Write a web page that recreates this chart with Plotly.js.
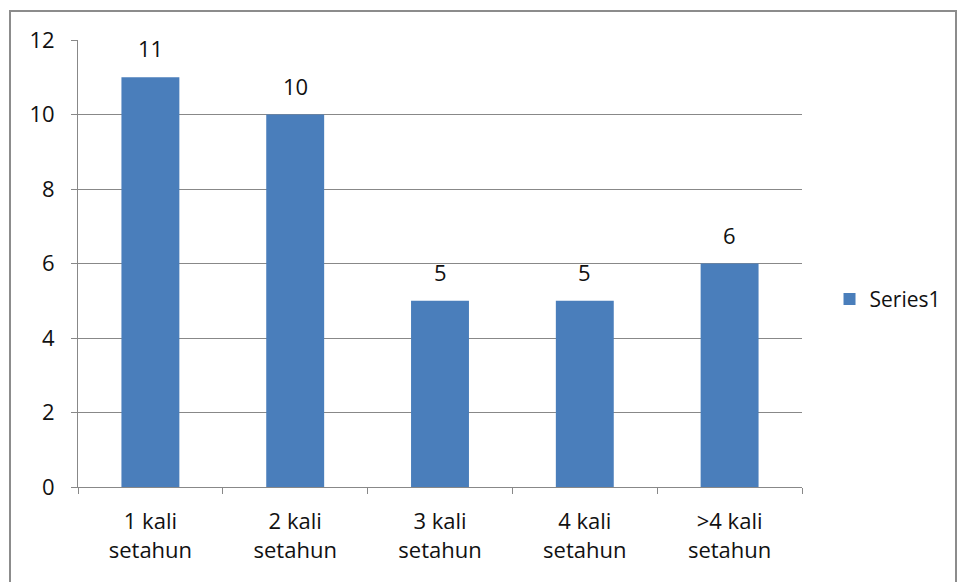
<!DOCTYPE html>
<html>
<head>
<meta charset="utf-8">
<script src="https://cdn.plot.ly/plotly-3.0.1.min.js"></script>
<style>
html,body{margin:0;padding:0;background:#fff;}
#wrap{position:relative;width:960px;height:582px;}
#chart{position:absolute;left:0;top:0;width:960px;height:582px;}
#frame{position:absolute;left:9px;top:10px;width:948px;height:580px;border:2px solid #8c8c8c;box-sizing:border-box;pointer-events:none;}
</style>
</head>
<body>
<div id="wrap"><div id="chart"></div><div id="frame"></div></div>
<script>
var categories = ["1 kali<br>setahun", "2 kali<br>setahun", "3 kali<br>setahun", "4 kali<br>setahun", ">4 kali<br>setahun"];
var values = [11, 10, 5, 5, 6];
var seriesName = "Series1";
var yTicks = [0, 2, 4, 6, 8, 10, 12];

var font = "Open Sans, Liberation Sans, sans-serif";
var fs = 22;
var trace = {
  type: "bar",
  x: categories,
  y: values,
  name: seriesName,
  marker: {color: "#4A7EBB"},
  width: 0.4,
  showlegend: true
};
var annotations = categories.map(function(c, i) {
  return {x: c, y: values[i], xref: "x", yref: "y", text: String(values[i]),
          showarrow: false, yanchor: "bottom", yshift: 12,
          font: {family: font, size: fs, color: "#111"}};
});
var layout = {
  width: 960, height: 582,
  margin: {l: 78, r: 158, t: 40, b: 95},
  paper_bgcolor: "#fff", plot_bgcolor: "#fff",
  font: {family: font, size: fs, color: "#111"},
  annotations: annotations,
  xaxis: {
    type: "category",
    tickson: "boundaries",
    ticks: "outside", ticklen: 6, tickcolor: "#888",
    ticklabelstandoff: 15,
    showline: true, linecolor: "#888", linewidth: 1,
    showgrid: false,
    automargin: false,
    tickfont: {family: font, size: fs, color: "#111"},
    fixedrange: true
  },
  yaxis: {
    range: [0, 12],
    tickvals: yTicks,
    ticks: "outside", ticklen: 6, tickcolor: "#888",
    ticklabelstandoff: 12,
    showline: true, linecolor: "#888", linewidth: 1,
    showgrid: true, gridcolor: "#888", gridwidth: 1,
    zeroline: false,
    automargin: false,
    tickfont: {family: font, size: fs, color: "#111"},
    fixedrange: true
  },
  showlegend: true,
  legend: {x: 1.038, xanchor: "left", y: 0.42, yanchor: "middle",
           font: {family: font, size: fs - 1, color: "#111"},
           itemwidth: 30, borderwidth: 0}
};
Plotly.newPlot("chart", [trace], layout, {displayModeBar: false, staticPlot: true});
</script>
</body>
</html>
